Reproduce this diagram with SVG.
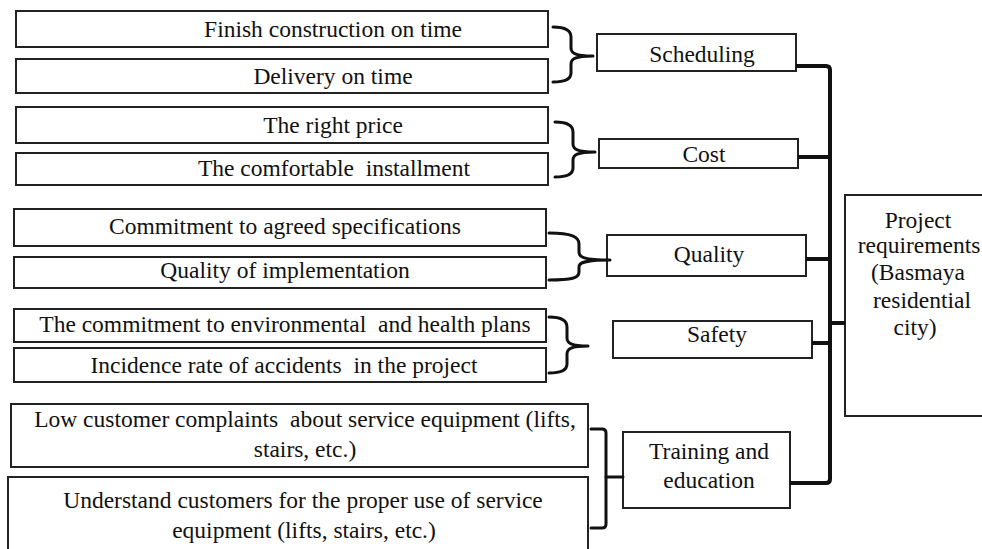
<svg xmlns="http://www.w3.org/2000/svg" width="982" height="549" viewBox="0 0 982 549" xml:space="preserve">
  <style>
    .box { fill: #ffffff; stroke: #222222; stroke-width: 2; }
    .lbl { font-family: "Liberation Serif", "Times New Roman", serif; font-size: 23.5px; fill: #111111; text-anchor: middle; white-space: pre; }
    .brace { fill: none; stroke: #111111; stroke-width: 3; stroke-linecap: round; stroke-linejoin: round; }
    .link { fill: none; stroke: #111111; stroke-width: 4; stroke-linejoin: round; }
  </style>
  <rect width="982" height="549" fill="#ffffff"/>

  <!-- criteria boxes (left column) -->
  <g id="finish-construction">
    <rect class="box" x="16" y="11" width="532" height="36"/>
    <text class="lbl" x="333" y="37">Finish construction on time</text>
  </g>
  <g id="delivery">
    <rect class="box" x="16" y="59" width="532" height="34"/>
    <text class="lbl" x="333" y="84">Delivery on time</text>
  </g>
  <g id="right-price">
    <rect class="box" x="16" y="107" width="532" height="36"/>
    <text class="lbl" x="333" y="133">The right price</text>
  </g>
  <g id="installment">
    <rect class="box" x="16" y="153" width="532" height="32"/>
    <text class="lbl" x="334" y="176">The comfortable  installment</text>
  </g>
  <g id="agreed-specs">
    <rect class="box" x="14" y="209" width="532" height="37"/>
    <text class="lbl" x="285" y="234">Commitment to agreed specifications</text>
  </g>
  <g id="implementation">
    <rect class="box" x="14" y="257" width="532" height="31"/>
    <text class="lbl" x="285" y="278">Quality of implementation</text>
  </g>
  <g id="env-health">
    <rect class="box" x="14" y="309" width="532" height="33"/>
    <text class="lbl" x="285" y="332">The commitment to environmental  and health plans</text>
  </g>
  <g id="accidents">
    <rect class="box" x="14" y="348" width="532" height="34"/>
    <text class="lbl" x="284" y="373">Incidence rate of accidents  in the project</text>
  </g>
  <g id="complaints">
    <rect class="box" x="11" y="404" width="577" height="63"/>
    <text class="lbl" x="305" y="427">Low customer complaints  about service equipment (lifts,</text>
    <text class="lbl" x="305" y="457">stairs, etc.)</text>
  </g>
  <g id="understand">
    <rect class="box" x="8" y="477" width="580" height="80"/>
    <text class="lbl" x="303" y="508">Understand customers for the proper use of service</text>
    <text class="lbl" x="304" y="538">equipment (lifts, stairs, etc.)</text>
  </g>

  <!-- category boxes (middle column) -->
  <g id="scheduling">
    <rect class="box" x="597" y="34" width="199" height="37"/>
    <text class="lbl" x="702" y="62">Scheduling</text>
  </g>
  <g id="cost">
    <rect class="box" x="599" y="139" width="199" height="29"/>
    <text class="lbl" x="704" y="162">Cost</text>
  </g>
  <g id="quality">
    <rect class="box" x="607" y="235" width="199" height="41"/>
    <text class="lbl" x="709" y="262">Quality</text>
  </g>
  <g id="safety">
    <rect class="box" x="613" y="321" width="199" height="37"/>
    <text class="lbl" x="717" y="342">Safety</text>
  </g>
  <g id="training">
    <rect class="box" x="623" y="432" width="167" height="76"/>
    <text class="lbl" x="709" y="459">Training and</text>
    <text class="lbl" x="709" y="488">education</text>
  </g>

  <!-- overall requirement box (right) -->
  <g id="project-requirements">
    <rect class="box" x="845" y="195" width="160" height="221"/>
    <text class="lbl" x="918" y="228">Project</text>
    <text class="lbl" x="919" y="253">requirements</text>
    <text class="lbl" x="918" y="280">(Basmaya</text>
    <text class="lbl" x="922" y="308">residential</text>
    <text class="lbl" x="915" y="335">city)</text>
  </g>

  <!-- braces and connector lines -->
  <g id="connectors">
    <path class="brace" d="M553 27 C566 27 571 31 571 37 L571 48 C571 53 575 56 593 56 C575 56 571 59 571 64 L571 73 C571 79 566 82 553 82"/>
    <path class="brace" d="M555 122 C568 122 573 126 573 132 L573 144 C573 149 577 152 595 152 C577 152 573 155 573 160 L573 168 C573 174 568 177 555 177"/>
    <path class="brace" d="M549 233 C572 233 579 237 579 244 L579 252 C579 257 583 260 610 260 C583 260 579 263 579 267 L579 272 C579 278 572 280 549 280"/>
    <path class="brace" d="M549 317 C562 317 567 321 567 327 L567 338 C567 343 571 346 588 346 C571 346 567 349 567 354 L567 364 C567 370 562 373 549 373"/>
    <path class="brace" d="M591 429 L602 429 Q606 429 606 433 L606 524 Q606 528 602 528 L591 528"/>
    <path class="brace" d="M606 477 L623 477"/>
    <path class="link" d="M796 66 L826 66 Q830 66 830 70 L830 479 Q830 483 826 483 L790 483"/>
    <path class="link" d="M798 157 L830 157"/>
    <path class="link" d="M806 259 L830 259"/>
    <path class="link" d="M812 343 L830 343"/>
    <path class="link" d="M830 323 L845 323"/>
  </g>
</svg>
